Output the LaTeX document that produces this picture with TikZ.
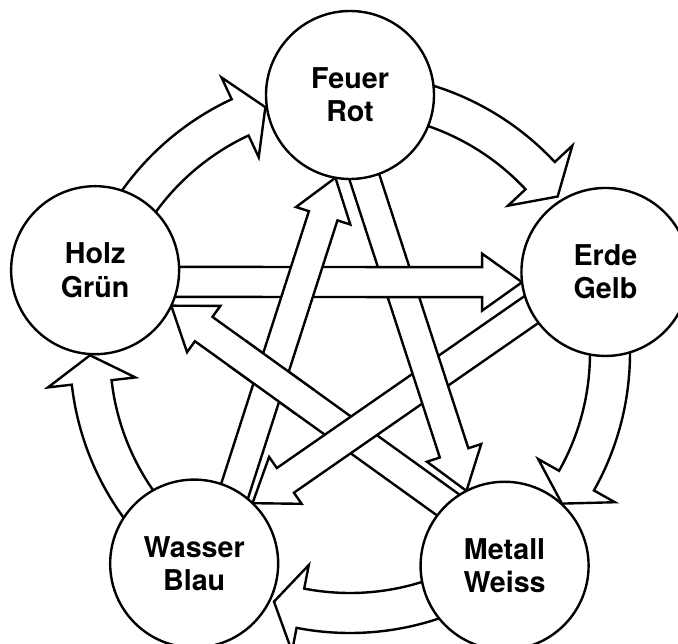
\documentclass[tikz,border=0pt]{standalone}
\usepackage{fontspec}
\setmainfont{TeX Gyre Heros}
\usetikzlibrary{calc,backgrounds,intersections}

% straight block arrow: #1 tail point, #2 tip point
\newcommand{\blockarrow}[2]{%
  \coordinate (ba-t) at (#2);
  \coordinate (ba-s) at ($(#1)!-0.1!(#2)$);
  \coordinate (ba-b) at ($(#2)!30pt!(#1)$);
  \filldraw[stararrow]
    ($(ba-s)!11.25pt!90:(ba-t)$) -- ($(ba-b)!11.25pt!90:(ba-t)$) --
    ($(ba-b)!21.4pt!90:(ba-t)$) -- (ba-t) --
    ($(ba-b)!21.4pt!-90:(ba-t)$) -- ($(ba-b)!11.25pt!-90:(ba-t)$) --
    ($(ba-s)!11.25pt!-90:(ba-t)$) -- cycle;
}
% curved arrow of the outer ring, starting at angle #1
\newcommand{\ringarrow}[1]{%
  \pgfmathsetmacro{\tipang}{#1-53}
  \pgfmathsetmacro{\backang}{#1-47}
  \filldraw[ringstyle] (#1:280) arc[start angle=#1, end angle=\backang, radius=280]
    -- (\backang:304) -- (\tipang:260) -- (\backang:216) -- (\backang:240)
    arc[start angle=\backang, end angle=#1, radius=240] -- cycle;
}

\begin{document}
\begin{tikzpicture}[
  x=0.75pt, y=0.75pt,
  elem/.style={
    circle,
    draw,
    fill=white,
    line width=1.8pt,
    minimum size=126pt,
    inner sep=0pt,
    outer sep=0pt,
    align=center,
    font=\fontsize{21.5}{25}\selectfont\bfseries
  },
  stararrow/.style={draw=black, fill=white, line width=1.8pt},
  ringstyle/.style={draw=black, fill=white, line width=1.8pt}
]
\useasboundingbox (0,0) rectangle (678,643);
\coordinate (mid) at (350,290);

\node[elem] (feuer)  at ($(mid)+(90:258)$)   {Feuer\\Rot};
\node[elem] (erde)   at ($(mid)+(17.6:268)$) {Erde\\Gelb};
\node[elem] (metall) at ($(mid)+(-54:263)$)  {Metall\\Weiss};
\node[elem] (wasser) at ($(mid)+(233.5:262)$) {Wasser\\Blau};
\node[elem] (holz)   at ($(mid)+(162:268)$)  {Holz\\Grün};

\begin{scope}[on background layer]
  % outer ring
  \begin{scope}[shift={(mid)}]
    \foreach \a in {162,90,17.6,-54,233.5}{
      \ringarrow{\a}
    }
  \end{scope}
  % inner star, bottom to top
  \blockarrow{metall.133}{holz.-25}
  \blockarrow{erde.207}{wasser.46}
  \blockarrow{feuer.280}{metall.117}
  \blockarrow{holz.-8}{erde.187}
  \blockarrow{wasser.61}{feuer.260}
  % Metall->Holz lies over Wasser->Feuer
  \path[name path=mhline] (metall.133) -- (holz.-25);
  \path[name path=wfline] (wasser.61) -- (feuer.260);
  \path[name intersections={of=mhline and wfline, by=crossmw}];
  \begin{scope}
    \clip (crossmw) circle[radius=34pt];
    \blockarrow{metall.133}{holz.-25}
  \end{scope}
\end{scope}
\end{tikzpicture}
\end{document}
